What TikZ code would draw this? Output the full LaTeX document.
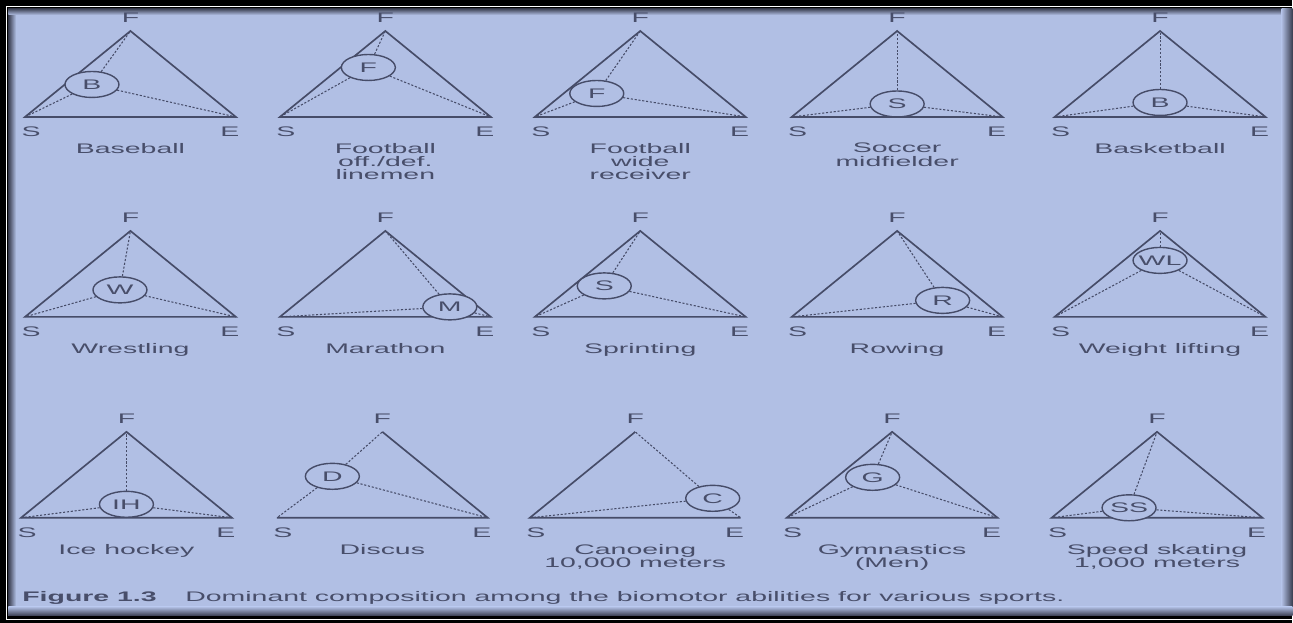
\documentclass[tikz,border=0pt]{standalone}
\usepackage{fontspec}
\setmainfont{Liberation Sans}[FakeStretch=2.05]
\usepackage{tikz}
\usetikzlibrary{shapes.geometric,positioning}
\definecolor{panelblue}{RGB}{177,191,228}
\definecolor{inkline}{RGB}{70,76,104}
\definecolor{inktext}{RGB}{72,78,106}
\definecolor{shadowgray}{RGB}{58,62,80}
\tikzset{
  sideline/.style={draw=inkline,line width=0.95pt},
  dotline/.style={draw=inkline,line width=0.6pt,dash pattern=on 1.2pt off 1pt},
  abilitybox/.style={ellipse,draw=inkline,fill=panelblue,line width=0.8pt,minimum width=1.08cm,
    minimum height=0.52cm,inner xsep=-1.5pt,inner ysep=0pt,text=inktext,font=\fontsize{7.9}{7.55}\selectfont},
  cornerlabel/.style={text=inktext,inner sep=0pt,font=\fontsize{7.9}{7.55}\selectfont},
  sportlabel/.style={text=inktext,inner sep=0pt,anchor=north,align=center,font=\fontsize{7.9}{7.55}\selectfont},
  captionlabel/.style={text=inktext,inner sep=0pt,font=\fontsize{7.9}{9}\selectfont}
}
% [solid sides]{name}{x of S}{y of base}{x, y of ellipse}{tag}{sport}
\newcommand{\abilitytri}[8][(S) -- (E) -- (F) -- cycle]{%
  \begin{scope}[name prefix=#2-]
    \coordinate (S) at (#3,#4);
    \coordinate (E) at (#3+211,#4);
    \coordinate (F) at (#3+105.5,#4-86);
    \draw[sideline] #1;
    \node[abilitybox] (tag) at (#5,#6) {#7};
    \draw[dotline] (tag) -- (S);
    \draw[dotline] (tag) -- (E);
    \draw[dotline] (tag) -- (F);
    \node[cornerlabel] (lS) at (#3+6,#4+15) {S};
    \node[cornerlabel] (lE) at (#3+205,#4+15) {E};
    \node[cornerlabel] (lF) at (#3+105.5,#4-99) {F};
    \node[sportlabel] (sport) at (#3+105.5,#4+26) {#8};
  \end{scope}}

\begin{document}
\begin{tikzpicture}[x=0.02cm,y=-0.02cm]
  \fill[black] (0,0) rectangle (1293,623);
  \draw[white,line width=0.6pt] (1293,6.5) -- (6.5,6.5) -- (6.5,619.5) -- (1293,619.5);
  \fill[panelblue] (8.5,8.5) rectangle (1293,616);
  \shade[left color=shadowgray,right color=panelblue] (8.5,8.5) rectangle (16,616);
  \shade[top color=shadowgray,bottom color=panelblue] (8.5,8.5) rectangle (1293,15);
  \shade[left color=panelblue,right color=shadowgray] (1282,8.5) rectangle (1293,616);
  \shade[top color=panelblue,bottom color=shadowgray] (8.5,607) rectangle (1293,616);

  \abilitytri{baseball}{25}{117}{92}{84.5}{B}{Baseball}
  \abilitytri{linemen}{280}{117}{368.5}{67.5}{F}{Football\\off./def.\\linemen}
  \abilitytri{receiver}{535}{117}{597}{93.5}{F}{Football\\wide\\receiver}
  \abilitytri{soccer}{792}{117}{897.5}{104}{S}{Soccer\\midfielder}
  \abilitytri{basketball}{1055}{117}{1160.5}{102.5}{B}{Basketball}

  \abilitytri{wrestling}{25}{317}{120}{290}{W}{Wrestling}
  \abilitytri{marathon}{280}{317}{450}{307}{M}{Marathon}
  \abilitytri{sprinting}{535}{317}{604.5}{286}{S}{Sprinting}
  \abilitytri{rowing}{792}{317}{943}{300.5}{R}{Rowing}
  \abilitytri{weightlifting}{1055}{317}{1160.5}{260.5}{WL}{Weight lifting}

  \abilitytri{icehockey}{21}{518}{126.5}{504.5}{IH}{Ice hockey}
  \abilitytri[(S) -- (E) -- (F)]{discus}{277}{518}{332.5}{476.5}{D}{Discus}
  \abilitytri[(F) -- (S) -- (E)]{canoeing}{530}{518}{713}{498.5}{C}{Canoeing\\10,000 meters}
  \abilitytri{gymnastics}{787}{518}{873}{477.5}{G}{Gymnastics\\(Men)}
  \abilitytri{speedskating}{1052}{518}{1129.5}{508}{SS}{Speed skating\\1,000 meters}

  \node[captionlabel,anchor=base west,font=\fontsize{7.9}{9}\selectfont\bfseries] (figno) at (22,601.5) {Figure 1.3};
  \node[captionlabel,base right=0.56cm of figno] (caption)
    {Dominant composition among the biomotor abilities for various sports.};
\end{tikzpicture}
\end{document}
